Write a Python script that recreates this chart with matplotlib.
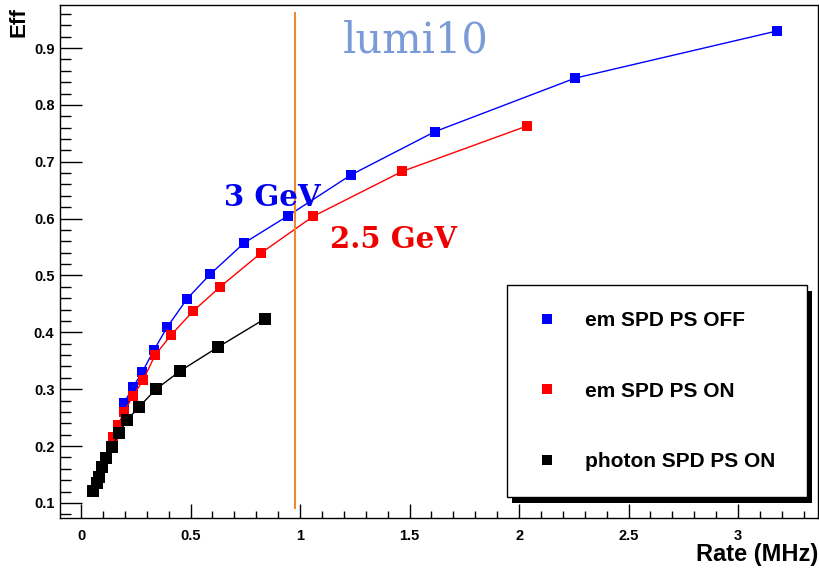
import matplotlib
matplotlib.use("Agg")
import matplotlib.pyplot as plt
from matplotlib.lines import Line2D
from matplotlib.patches import Rectangle
from matplotlib.ticker import MultipleLocator

# em SPD PS OFF
rate_off = [0.196, 0.238, 0.279, 0.333, 0.393, 0.484, 0.589, 0.744, 0.945, 1.233, 1.616, 2.256, 3.178]
eff_off = [0.276, 0.304, 0.330, 0.369, 0.409, 0.459, 0.502, 0.557, 0.605, 0.677, 0.753, 0.847, 0.930]

# em SPD PS ON
rate_on = [0.146, 0.169, 0.196, 0.237, 0.283, 0.338, 0.410, 0.511, 0.635, 0.820, 1.060, 1.466, 2.037]
eff_on = [0.216, 0.237, 0.260, 0.288, 0.316, 0.360, 0.395, 0.437, 0.480, 0.539, 0.604, 0.683, 0.763]

# photon SPD PS ON
rate_ph = [0.055, 0.073, 0.082, 0.096, 0.114, 0.140, 0.174, 0.210, 0.265, 0.342, 0.452, 0.625, 0.840]
eff_ph = [0.121, 0.135, 0.146, 0.163, 0.179, 0.198, 0.223, 0.246, 0.269, 0.300, 0.332, 0.374, 0.424]

labels = ["em SPD PS OFF", "em SPD PS ON", "photon SPD PS ON"]
colors = ["#0000ff", "#ff0000", "#000000"]
lumi_rate = 0.977

fig = plt.figure(figsize=(8.19, 5.76), dpi=100)
ax = fig.add_axes([0.0733, 0.1007, 0.9255, 0.8906])

ax.plot(rate_off, eff_off, "-s", color=colors[0], lw=1, ms=7.5, mew=0)
ax.plot(rate_on, eff_on, "-s", color=colors[1], lw=1, ms=7.5, mew=0)
ax.plot(rate_ph, eff_ph, "-s", color=colors[2], lw=1, ms=8.5, mew=0)

ax.plot([lumi_rate, lumi_rate], [0.091, 0.961], color="#f08a30", lw=1.5)

ax.set_xlim(-0.096, 3.365)
ax.set_ylim(0.0736, 0.9756)

ax.xaxis.set_major_locator(MultipleLocator(0.5))
ax.xaxis.set_minor_locator(MultipleLocator(0.1))
ax.yaxis.set_major_locator(MultipleLocator(0.1))
ax.yaxis.set_minor_locator(MultipleLocator(0.02))
ax.set_xticks([0, 0.5, 1, 1.5, 2, 2.5, 3])
ax.set_xticklabels(["0", "0.5", "1", "1.5", "2", "2.5", "3"])
ax.set_yticks([0.1, 0.2, 0.3, 0.4, 0.5, 0.6, 0.7, 0.8, 0.9])
ax.set_yticklabels(["0.1", "0.2", "0.3", "0.4", "0.5", "0.6", "0.7", "0.8", "0.9"])

ax.tick_params(axis="x", which="major", direction="in", length=10, width=1, pad=8)
ax.tick_params(axis="x", which="minor", direction="in", length=5, width=1)
ax.tick_params(axis="y", which="major", direction="in", length=16, width=1, pad=4)
ax.tick_params(axis="y", which="minor", direction="in", length=8, width=1)
for lab in ax.get_xticklabels() + ax.get_yticklabels():
    lab.set_family("Liberation Sans")
    lab.set_fontweight("bold")
    lab.set_fontsize(10.5)
for sp in ax.spines.values():
    sp.set_linewidth(1)

fig.text(0.999, 0.026, "Rate (MHz)", ha="right", va="baseline", family="Liberation Sans",
         fontweight="bold", fontsize=17)
fig.text(0.036, 0.988, "Eff", ha="right", va="top", rotation=90, family="Liberation Sans",
         fontweight="bold", fontsize=16)

ax.text(0.373, 0.908, "lumi10", transform=ax.transAxes, ha="left", va="baseline",
        family="DejaVu Serif", fontsize=30, color="#7b9bd8")
ax.text(0.216, 0.624, "3 GeV", transform=ax.transAxes, ha="left", va="center",
        family="DejaVu Serif", fontweight="bold", fontsize=21, color="#0000ee")
ax.text(0.356, 0.542, "2.5 GeV", transform=ax.transAxes, ha="left", va="center",
        family="DejaVu Serif", fontweight="bold", fontsize=21, color="#ee0000")

# legend box with ROOT-style black shadow
handles = [Line2D([], [], ls="none", marker="s", ms=7, mew=0, color=c) for c in colors]
leg = ax.legend(handles, labels, loc="upper left",
                bbox_to_anchor=(0.590, 0.454, 0.3955, 0.0), mode="expand",
                prop={"family": "Liberation Sans", "weight": "bold", "size": 15},
                frameon=True, fancybox=False, edgecolor="black", framealpha=1,
                borderpad=1.25, labelspacing=2.47, handlelength=1.3, handletextpad=1.17,
                borderaxespad=0)
leg.get_frame().set_linewidth(1)
leg.set_zorder(5)

fig.canvas.draw()
bb = leg.get_window_extent().transformed(ax.transAxes.inverted())
ax.add_patch(Rectangle((bb.x0 + 0.0066, bb.y0 - 0.0107), bb.width, bb.height,
                       transform=ax.transAxes, facecolor="black", zorder=4, clip_on=False))

fig.savefig("out.png", dpi=100)
